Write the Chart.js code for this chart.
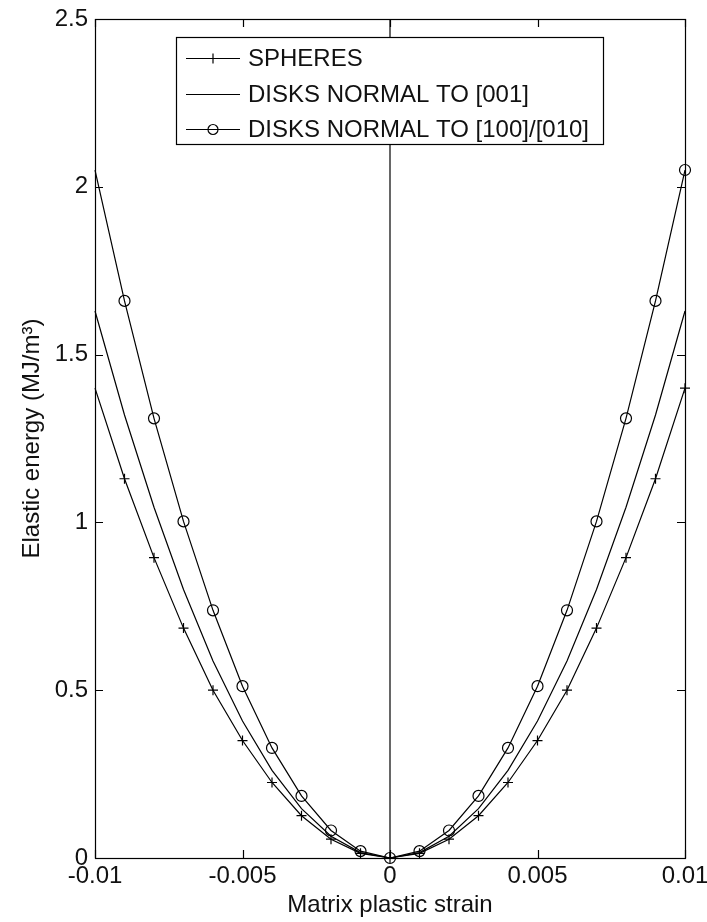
<!DOCTYPE html>
<html><head><meta charset="utf-8">
<script src="https://cdn.jsdelivr.net/npm/chart.js@4/dist/chart.umd.min.js"></script>
<style>html,body{margin:0;padding:0;background:#fff;}#wrap{width:707px;height:922px;}</style>
</head><body><div id="wrap"><canvas id="c" width="707" height="922"></canvas></div>
<script>
// ---- data ----
const strain = [-0.01,-0.009,-0.008,-0.007,-0.006,-0.005,-0.004,-0.003,-0.002,-0.001,0,
                0.001,0.002,0.003,0.004,0.005,0.006,0.007,0.008,0.009,0.01];
const spheres = [1.40,1.13,0.895,0.685,0.50,0.35,0.225,0.126,0.056,0.014,0,
                 0.014,0.056,0.126,0.225,0.35,0.50,0.685,0.895,1.13,1.40];
const disks001 = [1.63,1.32,1.045,0.80,0.587,0.408,0.261,0.147,0.065,0.016,0,
                  0.016,0.065,0.147,0.261,0.408,0.587,0.80,1.045,1.32,1.63];
const disks100 = [2.05,1.66,1.31,1.003,0.738,0.512,0.328,0.185,0.082,0.0205,0,
                  0.0205,0.082,0.185,0.328,0.512,0.738,1.003,1.31,1.66,2.05];
const centerLineX = [0, 0];
const centerLineY = [0, 2.5];
const seriesLabels = ['SPHERES','DISKS NORMAL TO [001]','DISKS NORMAL TO [100]/[010]'];
const xTicks = [-0.01,-0.005,0,0.005,0.01];
const xTickLabels = ['-0.01','-0.005','0','0.005','0.01'];
const yTicks = [0,0.5,1,1.5,2,2.5];
const yTickLabels = ['0','0.5','1','1.5','2','2.5'];
const xTitle = 'Matrix plastic strain';
const yTitle = 'Elastic energy (MJ/m\u00B3)';

const FONT = '"Liberation Sans", Arial, Helvetica, sans-serif';
const INK = '#111';

const pts = (xs, ys) => xs.map((x, i) => ({x: x, y: ys[i]}));

const markerStyles = ['cross', null, 'circle'];

// marker hidden at the left axis edge, as in the reference
const radiusFor = r => ctx => (ctx.dataIndex === 0 ? 0 : r);

function drawMarker(ctx, style, x, y, r) {
  ctx.beginPath();
  if (style === 'cross') {
    ctx.moveTo(x - r, y); ctx.lineTo(x + r, y);
    ctx.moveTo(x, y - r); ctx.lineTo(x, y + r);
  } else if (style === 'circle') {
    ctx.arc(x, y, r, 0, Math.PI * 2);
  }
  ctx.stroke();
}

const frame = {
  id: 'matlabFrame',
  afterDatasetsDraw(chart) {
    const ctx = chart.ctx, a = chart.chartArea;
    const xs = chart.scales.x, ys = chart.scales.y;
    ctx.save();
    ctx.strokeStyle = '#000';
    ctx.lineWidth = 1.2;
    ctx.strokeRect(Math.round(a.left) + 0.5, Math.round(a.top) + 0.5,
                   Math.round(a.right - a.left), Math.round(a.bottom - a.top));
    const T = 8;
    ctx.beginPath();
    xTicks.forEach(v => {
      const px = Math.round(xs.getPixelForValue(v)) + 0.5;
      ctx.moveTo(px, a.bottom); ctx.lineTo(px, a.bottom - T);
      ctx.moveTo(px, a.top); ctx.lineTo(px, a.top + T);
    });
    yTicks.forEach(v => {
      const py = Math.round(ys.getPixelForValue(v)) + 0.5;
      ctx.moveTo(a.left, py); ctx.lineTo(a.left + T, py);
      ctx.moveTo(a.right, py); ctx.lineTo(a.right - T, py);
    });
    ctx.stroke();
    ctx.restore();
  },
  afterDraw(chart) {
    const ctx = chart.ctx;
    const L = 176.5, Tp = 37.5, W = 427, H = 107;
    ctx.save();
    ctx.fillStyle = '#fff';
    ctx.fillRect(L, Tp, W, H);
    ctx.strokeStyle = '#000';
    ctx.lineWidth = 1.2;
    ctx.strokeRect(L, Tp, W, H);
    const rows = [58, 94, 129];
    ctx.font = '24px ' + FONT;
    ctx.textBaseline = 'middle';
    ctx.textAlign = 'left';
    rows.forEach((ry, i) => {
      ctx.strokeStyle = '#000';
      ctx.lineWidth = 1.2;
      ctx.beginPath();
      ctx.moveTo(186, ry + 0.5); ctx.lineTo(240, ry + 0.5);
      ctx.stroke();
      if (markerStyles[i]) drawMarker(ctx, markerStyles[i], 213, ry + 0.5, 5);
      ctx.fillStyle = INK;
      ctx.fillText(chart.data.datasets[i].label, 248, ry + 1);
    });
    ctx.restore();
  }
};

const common = {
  borderColor: '#000', borderWidth: 1.2, fill: false, tension: 0,
  pointBorderColor: '#000', pointBackgroundColor: 'rgba(255,255,255,0)',
  pointBorderWidth: 1.2, clip: false
};

new Chart(document.getElementById('c').getContext('2d'), {
  type: 'line',
  data: {
    datasets: [
      Object.assign({}, common, {label: seriesLabels[0], data: pts(strain, spheres),
        pointStyle: 'cross', pointRadius: radiusFor(5), pointHoverRadius: 5}),
      Object.assign({}, common, {label: seriesLabels[1], data: pts(strain, disks001),
        pointRadius: 0, pointHoverRadius: 0}),
      Object.assign({}, common, {label: seriesLabels[2], data: pts(strain, disks100),
        pointStyle: 'circle', pointRadius: radiusFor(5.5), pointHoverRadius: 5.5}),
      Object.assign({}, common, {label: '', data: pts(centerLineX, centerLineY),
        pointRadius: 0, pointHoverRadius: 0})
    ]
  },
  options: {
    responsive: false,
    animation: false,
    devicePixelRatio: 1,
    events: [],
    layout: {padding: {left: 0, top: 19, right: 22, bottom: 0}},
    plugins: {legend: {display: false}, tooltip: {enabled: false}, title: {display: false}},
    scales: {
      x: {
        type: 'linear', position: 'bottom', min: -0.01, max: 0.01,
        grid: {display: false, drawTicks: false},
        border: {display: false},
        afterBuildTicks: s => { s.ticks = xTicks.map(v => ({value: v})); },
        ticks: {
          autoSkip: false, maxRotation: 0, padding: 4, color: INK,
          font: {family: FONT, size: 24},
          callback: (v, i) => xTickLabels[i]
        },
        title: {display: true, text: xTitle, color: INK,
          font: {family: FONT, size: 24}, padding: {top: 0, bottom: 2}},
        afterFit: s => { s.height = 64; s.paddingLeft = 0; s.paddingRight = 0; }
      },
      y: {
        type: 'linear', position: 'left', min: 0, max: 2.5,
        grid: {display: false, drawTicks: false},
        border: {display: false},
        afterBuildTicks: s => { s.ticks = yTicks.map(v => ({value: v})); },
        ticks: {
          autoSkip: false, padding: 7, color: INK,
          font: {family: FONT, size: 24},
          callback: (v, i) => yTickLabels[i]
        },
        title: {display: true, text: yTitle, color: INK,
          font: {family: FONT, size: 24}, padding: {top: 18, bottom: 0}},
        afterFit: s => { s.width = 95; s.paddingTop = 0; s.paddingBottom = 0; }
      }
    }
  },
  plugins: [frame]
});
</script>
</body></html>
